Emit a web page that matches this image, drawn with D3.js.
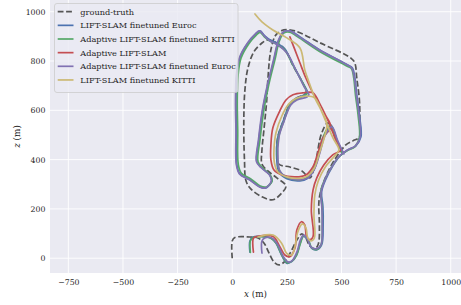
<!DOCTYPE html>
<html><head><meta charset="utf-8">
<script src="https://cdn.jsdelivr.net/npm/d3@7"></script>
<style>body{margin:0;background:#fff}svg{display:block}</style>
</head><body><svg id="c" width="461" height="305"></svg>
<script>
const xTicks = [-750,-500,-250,0,250,500,750,1000];
const zTicks = [0,200,400,600,800,1000];
const seriesNames = ["ground-truth","LIFT-SLAM finetuned Euroc","Adaptive LIFT-SLAM finetuned KITTI","Adaptive LIFT-SLAM","Adaptive LIFT-SLAM finetuned Euroc","LIFT-SLAM finetuned KITTI"];
const seriesColors = ["#555555","#4C72B0","#55A868","#C44E52","#8172B2","#CCB974"];

const groundTruth = [[0,0],[0,70],[12,84],[81,86],[118,82],[145,62],[168,22],[191,-15],[214,-27],[241,-13],[268,26],[296,74],[319,99],[337,82],[355,50],[378,38],[394,58],[399,135],[396,216],[401,257],[419,310],[447,366],[474,407],[497,435],[520,460],[552,476],[582,492],[584,561],[582,642],[570,731],[561,792],[543,812],[401,874],[287,922],[236,926],[200,906],[177,845],[163,723],[158,642],[145,520],[136,439],[136,382],[163,354],[204,326],[246,293],[223,261],[186,237],[136,249],[85,281],[63,314],[56,399],[53,561],[58,682],[72,772],[99,837],[136,873],[159,885],[174,884],[206,872],[241,847],[278,782],[323,709],[338,672],[287,646],[264,626],[232,553],[209,492],[204,439],[213,382],[264,370],[319,354],[355,326],[383,399],[408,504],[438,549],[470,492],[497,439]];

const liftEuroc = [[81,25],[81,70],[95,86],[136,88],[177,82],[200,62],[226,13],[249,-20],[272,-14],[294,13],[310,58],[325,88],[347,74],[363,41],[386,34],[409,54],[416,135],[415,209],[409,269],[429,322],[460,374],[493,415],[529,439],[566,456],[589,492],[582,581],[570,663],[561,732],[550,772],[529,784],[401,845],[310,898],[264,922],[236,918],[214,886],[191,804],[163,703],[140,602],[122,480],[113,391],[136,366],[172,338],[181,314],[154,285],[127,289],[81,318],[35,342],[21,379],[19,520],[17,642],[21,744],[35,813],[72,873],[108,910],[127,922],[149,902],[172,886],[204,873],[241,849],[278,784],[323,711],[342,675],[332,663],[287,646],[264,626],[232,553],[209,492],[204,399],[214,350],[250,322],[310,314],[342,322],[374,358],[396,419],[419,492],[451,541],[479,480],[506,427]];

const adaptiveKitti = [[83,24],[83,70],[97,85],[138,87],[178,80],[202,60],[228,11],[251,-18],[274,-12],[296,15],[312,60],[327,90],[349,72],[365,40],[388,36],[407,56],[412,135],[411,209],[405,270],[425,322],[456,372],[489,412],[525,436],[561,452],[582,490],[576,581],[564,663],[556,732],[545,770],[524,780],[398,840],[308,893],[262,917],[236,913],[216,882],[195,804],[167,703],[145,602],[127,480],[118,391],[140,366],[175,336],[183,314],[156,289],[128,293],[85,322],[42,345],[28,379],[25,520],[23,642],[27,744],[40,811],[76,870],[110,905],[127,916],[147,898],[170,882],[202,869],[240,845],[280,780],[325,707],[344,671],[334,661],[289,644],[266,624],[234,551],[212,490],[208,399],[218,352],[252,326],[310,318],[340,326],[372,362],[394,421],[417,494],[449,539],[477,478],[504,425]];

const adaptive = [[97,25],[97,81],[112,88],[187,88],[218,47],[241,13],[264,6],[287,41],[296,115],[317,148],[332,135],[340,88],[355,74],[370,88],[362,196],[370,277],[387,326],[419,378],[460,419],[497,439],[474,480],[451,533],[428,578],[401,626],[369,671],[323,671],[278,663],[246,642],[218,598],[186,529],[177,460],[177,399],[191,358],[227,338],[291,330],[337,338],[369,370],[392,427],[415,488],[451,533],[428,578],[401,626],[369,671],[337,731],[310,792],[287,845],[264,898]];

const adaptiveEuroc = [[136,21],[136,70],[149,82],[181,82],[209,54],[232,9],[255,-15],[273,-11],[296,25],[312,74],[326,94],[344,78],[360,46],[383,38],[406,54],[412,135],[410,208],[406,265],[426,322],[458,374],[491,415],[527,439],[564,456],[586,492],[580,581],[568,663],[559,732],[547,772],[527,784],[399,845],[307,898],[262,922],[234,918],[212,886],[189,804],[161,703],[138,602],[120,480],[111,391],[134,366],[170,338],[179,314],[152,285],[125,289],[79,318],[33,342],[19,379],[17,520],[15,642],[19,744],[33,813],[70,873],[106,910],[125,922],[147,902],[172,882],[209,865],[250,833],[291,764],[332,691],[351,663],[342,654],[296,642],[268,622],[236,553],[214,492],[209,399],[218,354],[255,326],[310,318],[346,326],[378,366],[401,427],[424,496],[456,533],[483,476],[511,423]];

const liftKitti = [[118,86],[149,94],[187,94],[226,61],[249,20],[272,13],[287,46],[300,107],[321,139],[337,123],[346,82],[360,70],[376,82],[374,176],[378,257],[394,314],[426,370],[465,411],[488,439],[461,488],[433,545],[406,602],[378,650],[337,658],[291,648],[259,626],[227,577],[200,508],[191,439],[193,387],[209,350],[250,330],[310,324],[346,334],[376,366],[399,427],[422,492],[433,545],[406,602],[378,650],[351,715],[332,764],[310,853],[250,894],[186,926],[136,959],[104,991]];

const seriesData = [groundTruth, liftEuroc, adaptiveKitti, adaptive, adaptiveEuroc, liftKitti];

const W = 461, H = 305;
const plot = {left: 50, right: 461, top: 0, bottom: 273};
const x = d3.scaleLinear().domain([-834, 1047]).range([plot.left, plot.right]);
const y = d3.scaleLinear().domain([-60, 1047.5]).range([plot.bottom, plot.top]);
const svg = d3.select("#c");
const font = "DejaVu Serif";
const fmt = v => (v < 0 ? "\u2212" + Math.abs(v) : String(v));

svg.append("rect").attr("x", plot.left).attr("y", plot.top)
  .attr("width", plot.right - plot.left).attr("height", plot.bottom - plot.top)
  .attr("fill", "#EAEAF2");

const grid = svg.append("g");
grid.selectAll("line.vx").data(xTicks).join("line")
  .attr("x1", d => x(d)).attr("x2", d => x(d)).attr("y1", plot.top).attr("y2", plot.bottom)
  .attr("stroke", "#fff").attr("stroke-width", 0.9);
grid.selectAll("line.hz").data(zTicks).join("line")
  .attr("y1", d => y(d)).attr("y2", d => y(d)).attr("x1", plot.left).attr("x2", plot.right)
  .attr("stroke", "#fff").attr("stroke-width", 0.9);

svg.append("defs").append("clipPath").attr("id", "clip").append("rect")
  .attr("x", plot.left).attr("y", plot.top).attr("width", plot.right - plot.left).attr("height", plot.bottom - plot.top);

const line = d3.line().x(d => x(d[0])).y(d => y(d[1])).curve(d3.curveCatmullRom.alpha(0.5));
const lines = svg.append("g").attr("clip-path", "url(#clip)");
seriesData.forEach((data, i) => {
  lines.append("path").datum(data).attr("d", line)
    .attr("fill", "none").attr("stroke", seriesColors[i])
    .attr("stroke-width", 1.7).attr("stroke-linejoin", "round").attr("stroke-linecap", i === 0 ? "butt" : "round")
    .attr("stroke-dasharray", i === 0 ? "5.8,2.6" : null);
});

const xAxis = svg.append("g").attr("transform", `translate(0,${plot.bottom})`)
  .call(d3.axisBottom(x).tickValues(xTicks).tickSize(0).tickPadding(6).tickFormat(fmt));
const yAxis = svg.append("g").attr("transform", `translate(${plot.left},0)`)
  .call(d3.axisLeft(y).tickValues(zTicks).tickSize(0).tickPadding(4.5).tickFormat(fmt));
[xAxis, yAxis].forEach(a => {
  a.select(".domain").remove();
  a.selectAll("text").attr("font-family", font).attr("font-size", 7.8).attr("fill", "#262626");
});

const xl = svg.append("text").attr("x", (plot.left + plot.right) / 2).attr("y", 297)
  .attr("text-anchor", "middle").attr("font-family", font).attr("font-size", 8.8).attr("fill", "#262626");
xl.append("tspan").attr("font-style", "italic").text("x");
xl.append("tspan").text(" (m)");
const yl = svg.append("text").attr("transform", `translate(20,${(plot.top + plot.bottom) / 2}) rotate(-90)`)
  .attr("text-anchor", "middle").attr("font-family", font).attr("font-size", 8.8).attr("fill", "#262626");
yl.append("tspan").attr("font-style", "italic").text("z");
yl.append("tspan").text(" (m)");

const lg = svg.append("g");
lg.append("rect").attr("x", 54.5).attr("y", 3.5).attr("width", 183.5).attr("height", 89).attr("rx", 2.5)
  .attr("fill", "#EAEAF2").attr("fill-opacity", 0.8).attr("stroke", "#cccccc").attr("stroke-width", 0.8);
seriesNames.forEach((name, i) => {
  const yy = 11.7 + i * 13.65;
  lg.append("line").attr("x1", 57.7).attr("x2", 73.5).attr("y1", yy).attr("y2", yy)
    .attr("stroke", seriesColors[i]).attr("stroke-width", 1.7)
    .attr("stroke-dasharray", i === 0 ? "5.8,2.6" : null);
  lg.append("text").attr("x", 80.3).attr("y", yy).attr("dy", "0.35em")
    .attr("font-family", font).attr("font-size", 8.2).attr("fill", "#262626").text(name);
});
</script></body></html>
